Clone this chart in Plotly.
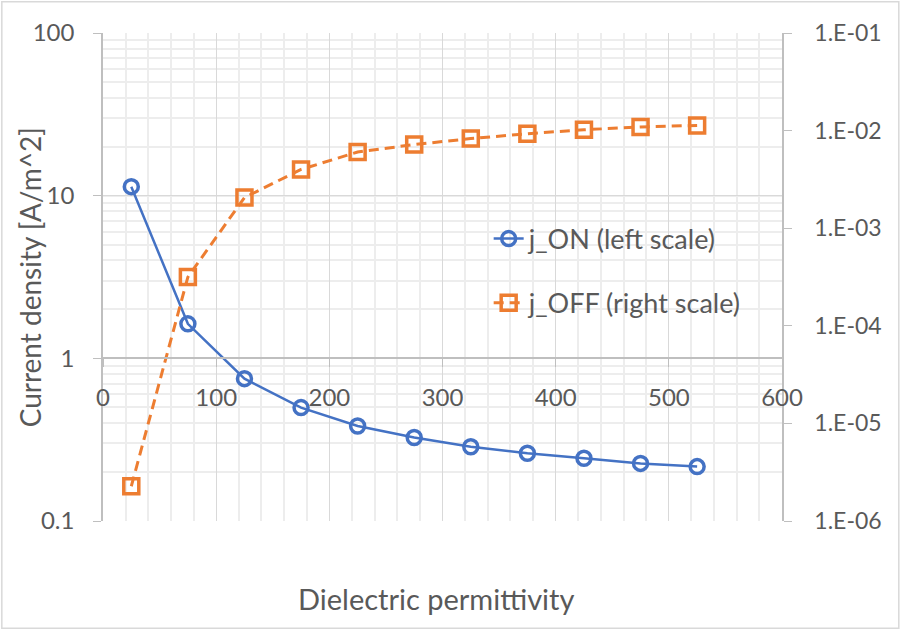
import plotly.graph_objects as go

# dielectric permittivity (x) and current densities
permittivity = [25, 75, 125, 175, 225, 275, 325, 375, 425, 475, 525]
j_on = [11.36, 1.63, 0.75, 0.498, 0.384, 0.326, 0.286, 0.261, 0.243, 0.226, 0.216]
j_off = [2.27e-6, 3.16e-4, 2.06e-3, 4.0e-3, 6.04e-3, 7.19e-3, 8.28e-3, 9.3e-3, 1.02e-2, 1.09e-2, 1.13e-2]

left_ticks = [0.1, 1, 10, 100]
left_labels = ["0.1", "1", "10", "100"]
right_ticks = [1e-6, 1e-5, 1e-4, 1e-3, 1e-2, 1e-1]
right_labels = ["1.E-06", "1.E-05", "1.E-04", "1.E-03", "1.E-02", "1.E-01"]

BLUE = "#4472C4"
ORANGE = "#ED7D31"
TXT = "#595959"
AXIS = "#bfbfbf"
MAJOR = "#d9d9d9"
MINOR = "#ededed"
FONT = "Lato, Open Sans, sans-serif"

fig = go.Figure()
fig.add_trace(go.Scatter(
    x=permittivity, y=j_on, name="j_ON (left scale)", mode="lines+markers",
    line=dict(color=BLUE, width=2.5),
    marker=dict(symbol="circle-open", size=14, color=BLUE, line=dict(width=3.5, color=BLUE)),
    legendgroup="on",
))
fig.add_trace(go.Scatter(
    x=permittivity, y=j_off, name="j_OFF (right scale)", mode="lines+markers", yaxis="y2",
    line=dict(color=ORANGE, width=3, dash="10px,6px"),
    marker=dict(symbol="square-open", size=15, color=ORANGE, line=dict(width=3.5, color=ORANGE)),
    legendgroup="off",
))

fig.update_layout(
    width=902, height=631,
    margin=dict(l=103, r=120, t=33, b=110),
    paper_bgcolor="white", plot_bgcolor="white",
    font=dict(family=FONT, size=24, color=TXT),
    showlegend=True,
    legend=dict(x=0.568, y=0.628, xanchor="left", yanchor="top",
                bgcolor="rgba(0,0,0,0)", tracegroupgap=26,
                font=dict(size=27, color=TXT)),
    xaxis=dict(
        range=[0, 600], dtick=100, anchor="free", position=1/3,
        showline=True, linecolor=AXIS, linewidth=1.5,
        ticks="outside", ticklen=8, tickcolor=AXIS, ticklabelstandoff=10,
        tickfont=dict(size=24),
        showgrid=True, gridcolor=MAJOR, gridwidth=1.3, zeroline=False,
        minor=dict(dtick=20, showgrid=True, gridcolor=MINOR, gridwidth=1.5),
    ),
    yaxis=dict(
        type="log", range=[-1, 2], tickvals=left_ticks, ticktext=left_labels,
        showline=True, linecolor=AXIS, linewidth=1.5,
        ticks="outside", ticklen=8, tickcolor=AXIS, ticklabelstandoff=14,
        tickfont=dict(size=24),
        showgrid=True, gridcolor=MAJOR, gridwidth=1.3,
        minor=dict(dtick="D1", showgrid=True, gridcolor=MINOR, gridwidth=1.5),
    ),
    yaxis2=dict(
        type="log", range=[-6, -1], tickvals=right_ticks, ticktext=right_labels,
        overlaying="y", side="right", anchor="x",
        showline=True, linecolor=AXIS, linewidth=1.5,
        ticks="outside", ticklen=8, tickcolor=AXIS, ticklabelstandoff=18,
        tickfont=dict(size=23),
        showgrid=False,
    ),
    annotations=[
        dict(text="Dielectric permittivity", xref="paper", yref="paper",
             x=0.49, y=-0.158, xanchor="center", yanchor="middle",
             showarrow=False, font=dict(size=29, color=TXT)),
        dict(text="Current density [A/m^2]", xref="paper", yref="paper",
             x=-0.107, y=0.5, xanchor="center", yanchor="middle", textangle=-90,
             showarrow=False, font=dict(size=28, color=TXT)),
    ],
    shapes=[dict(
        type="rect", xref="paper", yref="paper",
        x0=-0.149, x1=1.172, y0=-0.22, y1=1.064,
        line=dict(color=MAJOR, width=1.5), layer="below",
    )],
)

# drop the default page margin so the chart sits at the window corner
fig.write_html("out.html", config={"displayModeBar": False},
               post_script="document.body.style.margin = '0px';")
